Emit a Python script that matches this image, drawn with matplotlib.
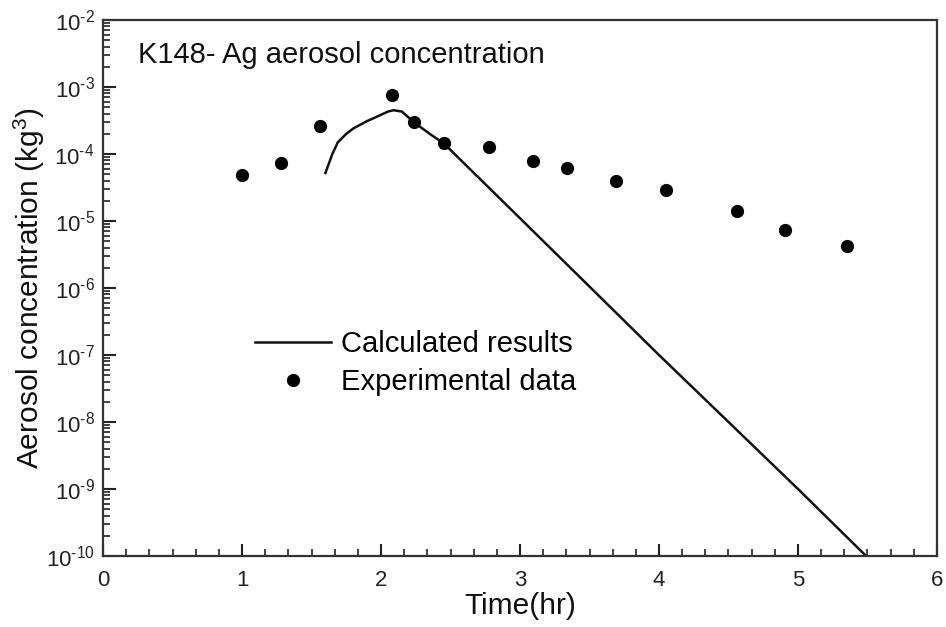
import matplotlib
matplotlib.use("Agg")
import matplotlib.pyplot as plt
from matplotlib.ticker import MultipleLocator, LogLocator, FixedLocator, NullFormatter

plt.rcParams['font.family'] = ['Liberation Sans', 'DejaVu Sans']
plt.rcParams['mathtext.fontset'] = 'custom'
plt.rcParams['mathtext.rm'] = 'Liberation Sans'
plt.rcParams['mathtext.it'] = 'Liberation Sans'

# Experimental data
exp_time = [1.00, 1.28, 1.56, 2.08, 2.24, 2.45, 2.78, 3.09, 3.34, 3.69, 4.05, 4.56, 4.91, 5.35]
exp_conc = [4.9e-5, 7.4e-5, 2.6e-4, 7.6e-4, 3.0e-4, 1.45e-4, 1.27e-4, 7.9e-5, 6.2e-5,
            4.0e-5, 2.9e-5, 1.4e-5, 7.4e-6, 4.3e-6]

# Calculated results
calc_time = [1.60, 1.65, 1.69, 1.75, 1.80, 1.90, 1.97, 2.05, 2.09, 2.15, 2.24, 2.35, 2.45,
             3.00, 4.00, 5.00, 5.49]
calc_conc = [5.2e-5, 1.0e-4, 1.5e-4, 2.0e-4, 2.4e-4, 3.1e-4, 3.6e-4, 4.3e-4, 4.5e-4,
             4.3e-4, 2.95e-4, 2.0e-4, 1.45e-4, 1.1e-5, 1.0e-7, 1.0e-9, 1.0e-10]

x_ticks = [0, 1, 2, 3, 4, 5, 6]
y_ticks = [1e-10, 1e-9, 1e-8, 1e-7, 1e-6, 1e-5, 1e-4, 1e-3, 1e-2]
y_labels = [r'10$^{\text{-10}}$', r'10$^{\text{-9}}$', r'10$^{\text{-8}}$', r'10$^{\text{-7}}$',
            r'10$^{\text{-6}}$', r'10$^{\text{-5}}$', r'10$^{\text{-4}}$', r'10$^{\text{-3}}$',
            r'10$^{\text{-2}}$']

fig = plt.figure(figsize=(9.46, 6.27), dpi=100)
ax = fig.add_axes([103/946, 1 - 556/627, (937-103)/946, (556-20)/627])

ax.plot(calc_time, calc_conc, color='#111111', lw=1.8, label='Calculated results', clip_on=True)
ax.plot(exp_time, exp_conc, 'o', color='black', ms=8.5, ls='none', label='Experimental data')

ax.set_yscale('log')
ax.set_xlim(0, 6)
ax.set_ylim(1e-10, 1e-2)

ax.xaxis.set_major_locator(FixedLocator(x_ticks))
ax.xaxis.set_minor_locator(MultipleLocator(1/6))
ax.yaxis.set_major_locator(FixedLocator(y_ticks))
ax.set_yticklabels(y_labels)
ax.yaxis.set_minor_locator(LogLocator(base=10, subs=range(2, 10), numticks=20))
ax.yaxis.set_minor_formatter(NullFormatter())

ax.tick_params(which='both', direction='in', top=False, right=False, color='#222222')
ax.tick_params(which='major', length=9, width=1.5, labelsize=16, colors='#222222')
ax.tick_params(axis='x', which='major', pad=10)
ax.tick_params(axis='y', which='major', pad=6)
ax.tick_params(which='minor', length=5, width=1.2)
for s in ax.spines.values():
    s.set_linewidth(1.6)
    s.set_color('#333333')

ax.set_xlabel('Time(hr)', fontsize=21.5, color='#111111', labelpad=0.5)
ax.set_ylabel('Aerosol concentration (kg$^{3}$)', fontsize=21.5, color='#111111', labelpad=-1)

ax.text(0.042, 0.935, 'K148- Ag aerosol concentration', transform=ax.transAxes,
        fontsize=21, color='#111111', va='center', ha='left')

leg = ax.legend(loc='upper left', bbox_to_anchor=(0.182, 0.422), frameon=False,
                fontsize=21, handlelength=2.6, handletextpad=0.35, labelspacing=0.36,
                borderaxespad=0, borderpad=0)

fig.savefig('out.png', dpi=100)
